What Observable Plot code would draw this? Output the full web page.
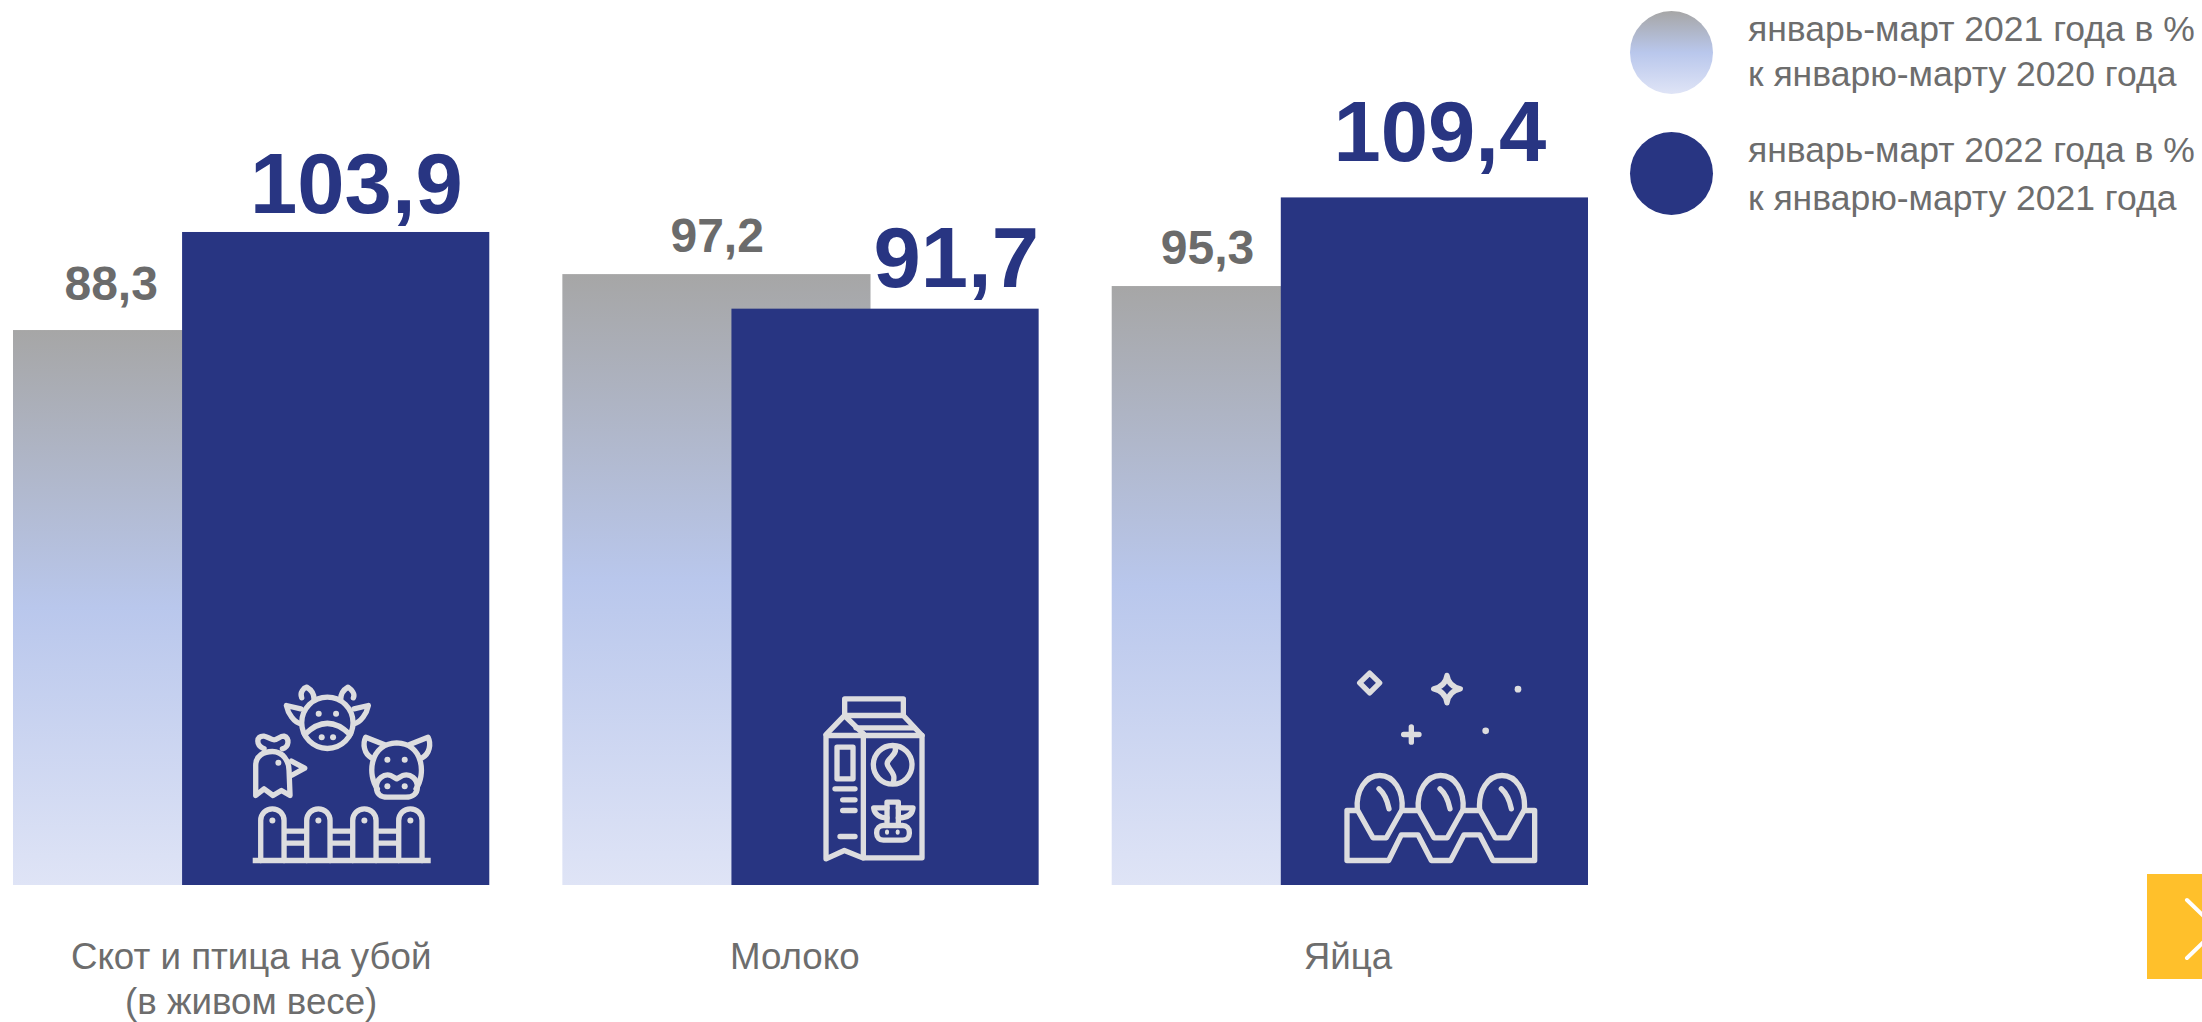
<!DOCTYPE html>
<html lang="ru">
<head>
<meta charset="utf-8">
<script src="https://cdn.jsdelivr.net/npm/d3@7"></script>
<script src="https://cdn.jsdelivr.net/npm/@observablehq/plot@0.6"></script>
<style>
html,body{margin:0;padding:0;background:#fff;overflow:hidden}
#page{position:relative;width:2202px;height:1022px;font-family:"Liberation Sans",Arial,sans-serif}
#page svg{display:block}
.swatch{position:absolute;left:1630px;width:83px;height:83px;border-radius:50%}
.ltext{position:absolute;left:1748px;font-size:35.5px;color:#6d6d6d;white-space:nowrap}
#next{position:absolute;left:2147px;top:874px;width:55px;height:105px;background:#ffc02b;overflow:hidden}
</style>
</head>
<body>
<div id="page"></div>
<script>
// ---- data
const categories = ["Скот и птица на убой\n(в живом весе)", "Молоко", "Яйца"];
const values2021 = [88.3, 97.2, 95.3];
const values2022 = [103.9, 91.7, 109.4];
const seriesNames = ["2021", "2022"];
const legendTexts = [
  "январь-март 2021 года в %\nк январю-марту 2020 года",
  "январь-март 2022 года в %\nк январю-марту 2021 года"
];

// ---- layout (share of a category band; label offsets)
const spans = {"2021": [0, 0.647], "2022": [0.355, 1]};
const labelX = {"2021": [0.205, 0.324, 0.200], "2022": [0.720, 0.826, 0.688]};
const labelGap = {"2021": [31, 23, 23], "2022": [19, 22, 37]};
const categoryLabelX = [0.499, 0.487, 0.495];
const pxPerUnit = 6.285;
const fmt = v => v.toFixed(1).replace(".", ",");

const rows = seriesNames.flatMap(s => {
  const vals = s === "2021" ? values2021 : values2022;
  return categories.map((c, i) => ({category: c, series: s, value: vals[i], i}));
});

// ---- pictograms
const svgUri = (w, h, body) => "data:image/svg+xml;utf8," + encodeURIComponent(
  `<svg xmlns="http://www.w3.org/2000/svg" width="${w}" height="${h}" viewBox="0 0 ${w} ${h}"><g fill="none" stroke="#dddddf" stroke-width="16" stroke-linecap="round" stroke-linejoin="round">${body}</g></svg>`);
const dots = (pts, r) => pts.map(([x, y]) => `<circle cx="${x}" cy="${y}" r="${r}" fill="#dddddf" stroke="none"/>`).join("");
const picket = x => `<path d="M${x-35},660V540a35,35 0 0 1 70,0V660"/>`;
const rails = x => `<path d="M${x},572h68M${x},608h68" stroke-linecap="butt"/>`;

const livestockIcon = svgUri(780, 780, `
  <circle cx="320" cy="247" r="77"/>
  <path d="M252,282Q320,215 388,282"/>
  <path d="M243,172C236,155 250,142 258,140C270,147 280,160 280,176"/>
  <path d="M240,205L197,195C202,220 220,245 240,250"/>
  <path d="M360,176C360,160 370,147 382,140C392,147 404,160 398,172"/>
  <path d="M400,205L443,195C438,220 420,245 400,250"/>
  ${dots([[294,220],[346,220],[303,290],[337,290]], 9)}
  <path d="M470,445C440,405 445,310 528,307C610,310 615,405 586,445"/>
  <path d="M467,440C467,415 490,398 510,405L528,415L546,405C570,398 590,415 590,440C590,460 575,470 555,470H500C480,470 467,460 467,440Z"/>
  <path d="M452,352C430,340 425,310 435,290L490,312"/>
  <path d="M604,352C627,340 632,310 622,290L567,312"/>
  ${dots([[500,358],[552,358],[500,437],[552,437]], 9)}
  <path d="M105,465V375C105,345 130,333 155,333C185,333 205,360 205,390L208,465L182,450L157,465L130,445Z"/>
  <path d="M130,325C105,315 105,285 130,287C140,288 150,298 160,298C170,298 180,285 190,287C208,292 205,320 185,325"/>
  <path d="M212,362L252,383L212,405"/>
  ${dots([[173,367]], 9)}
  ${[155,293,431,569].map(picket).join("")}
  ${[190,328,466].map(rails).join("")}
  <path d="M96,660H630" stroke-linecap="butt"/>
  ${dots([[155,540],[293,540],[431,540],[569,540]], 9)}
`);

const milkIcon = svgUri(600, 660, `
  <rect x="191" y="85" width="176" height="50"/>
  <path d="M135,195V565L190,540L245,562H423V195Z"/>
  <path d="M247,190V562"/>
  <path d="M135,192L190,135L247,190"/>
  <path d="M367,135L423,195"/>
  <path d="M225,172H400"/>
  <rect x="168" y="230" width="48" height="95"/>
  <path d="M162,355H222M185,388H222M185,420H222M177,498H222"/>
  <circle cx="335" cy="283" r="58"/>
  <path d="M342,230C352,255 310,265 320,285C330,305 345,310 336,338"/>
  <path d="M318,455V395H352V455"/>
  <path d="M318,412H278C280,430 295,442 318,442"/>
  <path d="M352,412H396C394,430 380,442 352,442"/>
  <rect x="287" y="465" width="98" height="44" rx="20"/>
  <path d="M318,483v4M350,483v4" stroke-width="12"/>
`);

const egg = x => `<path d="M${x-67},478C${x-72},420 ${x-42},375 ${x},375C${x+42},375 ${x+72},420 ${x+67},478L${x+20},562H${x-20}Z"/><path d="M${x-2},415C${x+15},430 ${x+23},450 ${x+28},475"/>`;
const eggsIcon = svgUri(780, 720, `
  <path d="M175,68L205,97L175,127L145,97Z"/>
  <path d="M407,75Q412,108 447,115Q412,122 407,157Q402,122 367,115Q402,108 407,75Z"/>
  <path d="M277,252H323M300,229V275"/>
  ${dots([[620,116],[523,241]], 10)}
  ${[205,388,572].map(egg).join("")}
  <path d="M107,480V630H232L270,553H320L360,630H418L458,553H505L545,630H670V480H639M107,480H138M272,480H321M455,480H505"/>
`);

const iconRows = [
  {category: categories[0], src: livestockIcon, x: 0.708, y: 18.3, w: 260, h: 260},
  {category: categories[1], src: milkIcon,      x: 0.668, y: 16.7, w: 200, h: 220},
  {category: categories[2], src: eggsIcon,      x: 0.691, y: 18.3, w: 260, h: 240}
];

// ---- gradient used by the 2021 bars
const gradStops = [["0%", "#a6a6a6"], ["50%", "#b9c7ec"], ["100%", "#dfe4f6"]];
const gradient = () => {
  const svg = d3.create("svg:defs");
  const g = svg.append("linearGradient").attr("id", "fade").attr("x1", 0).attr("y1", 0).attr("x2", 0).attr("y2", 1);
  gradStops.forEach(([o, c]) => g.append("stop").attr("offset", o).attr("stop-color", c));
  return svg.node();
};

const chart = Plot.plot({
  width: 2202, height: 1022,
  marginLeft: 13, marginRight: 614, marginTop: 0, marginBottom: 137,
  style: {fontFamily: "Liberation Sans, Arial, sans-serif", background: "#fff"},
  fx: {domain: categories, paddingInner: 0.133, paddingOuter: 0, round: false, label: null, axis: null},
  x: {domain: [0, 1], axis: null},
  y: {domain: [0, 885 / pxPerUnit], axis: null},
  marks: [
    gradient,
    Plot.rectY(rows, {
      fx: "category",
      x1: d => spans[d.series][0], x2: d => spans[d.series][1],
      y1: 0, y2: "value",
      fill: d => d.series === "2021" ? "url(#fade)" : "#283582"
    }),
    Plot.image(iconRows, {fx: "category", x: "x", y: "y", src: "src", width: "w", height: "h"}),
    Plot.text(rows.filter(d => d.series === "2021"), {
      fx: "category",
      x: d => labelX["2021"][d.i],
      y: d => d.value + labelGap["2021"][d.i] / pxPerUnit,
      text: d => fmt(d.value), fontSize: 48, fontWeight: 700, fill: "#6b6b6b",
      lineAnchor: "bottom"
    }),
    Plot.text(rows.filter(d => d.series === "2022"), {
      fx: "category",
      x: d => labelX["2022"][d.i],
      y: d => d.value + labelGap["2022"][d.i] / pxPerUnit,
      text: d => fmt(d.value), fontSize: 85, fontWeight: 700, fill: "#283582",
      lineAnchor: "bottom"
    }),
    Plot.text(categories, {
      fx: d => d,
      x: (d, i) => categoryLabelX[i],
      y: () => 0,
      text: d => d,
      dy: 51, lineAnchor: "top", fontSize: 36.7, lineHeight: 1.23, fill: "#6d6d6d"
    })
  ]
});

const page = document.getElementById("page");
page.appendChild(chart);

// ---- legend
const swatches = [
  {top: 11, textTop: 7, lh: 45, bg: `linear-gradient(${gradStops.map(([o, c]) => c + " " + o).join(",")})`},
  {top: 132, textTop: 126, lh: 48, bg: "#283582"}
];
swatches.forEach((s, i) => {
  const d = document.createElement("div");
  d.className = "swatch"; d.style.top = s.top + "px"; d.style.background = s.bg;
  page.appendChild(d);
  const t = document.createElement("div");
  t.className = "ltext"; t.style.top = s.textTop + "px"; t.style.lineHeight = s.lh + "px";
  t.innerHTML = legendTexts[i].replace("\n", "<br>");
  page.appendChild(t);
});

// ---- next-slide button
const nb = document.createElement("div");
nb.id = "next";
nb.innerHTML = `<svg width="55" height="105"><path d="M40,26L70,55L40,84" fill="none" stroke="#fff" stroke-width="4" stroke-linecap="round"/></svg>`;
page.appendChild(nb);
</script>
</body>
</html>
